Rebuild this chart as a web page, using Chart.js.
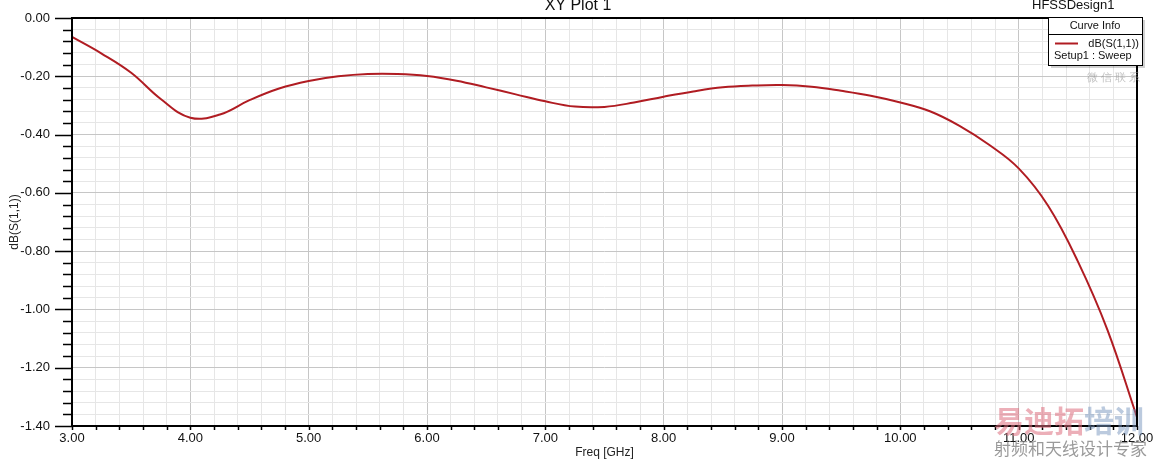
<!DOCTYPE html>
<html>
<head>
<meta charset="utf-8">
<title>XY Plot 1</title>
<script src="https://cdn.jsdelivr.net/npm/chart.js@4.4.1/dist/chart.umd.min.js"></script>
<style>
  html, body { margin: 0; padding: 0; background: #fff; }
  #plot { display: block; }
</style>
</head>
<body>
<canvas id="plot" width="1153" height="461"></canvas>
<script>
const freqGHz = [3.00, 3.25, 3.50, 3.75, 4.00, 4.25, 4.50, 4.75, 5.00,
                 5.25, 5.50, 5.75, 6.00, 6.25, 6.50, 6.75, 7.00, 7.25,
                 7.50, 7.75, 8.00, 8.25, 8.50, 8.75, 9.00, 9.25, 9.50, 9.75,
                 10.00, 10.25, 10.50, 10.75, 11.00, 11.25, 11.50, 11.75, 12.00];
const s11dB = [-0.065, -0.122, -0.188, -0.278, -0.342, -0.331, -0.282, -0.242, -0.216,
               -0.200, -0.192, -0.192, -0.199, -0.215, -0.238, -0.262, -0.286, -0.304,
               -0.305, -0.290, -0.270, -0.252, -0.238, -0.232, -0.230, -0.236, -0.250, -0.267,
               -0.290, -0.320, -0.370, -0.435, -0.516, -0.645, -0.835, -1.070, -1.370];

const xMajorTicks = [3, 4, 5, 6, 7, 8, 9, 10, 11, 12];
const yMajorTicks = [0, -0.2, -0.4, -0.6, -0.8, -1.0, -1.2, -1.4];

const FONT = 'Arial, "Liberation Sans", sans-serif';
const curveColor = '#b01c22';

const isMajor = (list, v) => list.some(t => Math.abs(t - v) < 1e-6);

// Frame, tick marks, titles and the "Curve Info" box, drawn on top of the chart
const hfssDecor = {
    id: 'hfssDecor',
    afterDraw(chart) {
        const c = chart.ctx;
        const a = chart.chartArea;
        const xs = chart.scales.x;
        const ys = chart.scales.y;
        c.save();

        // tick marks
        c.strokeStyle = '#000';
        c.lineWidth = 1.5;
        c.beginPath();
        ys.ticks.forEach(t => {
            const y = Math.round(ys.getPixelForValue(t.value)) + 0.5;
            const len = isMajor(yMajorTicks, t.value) ? 17 : 9;
            c.moveTo(a.left - len, y);
            c.lineTo(a.left, y);
        });
        xs.ticks.forEach(t => {
            const x = Math.round(xs.getPixelForValue(t.value)) + 0.5;
            c.moveTo(x, a.bottom);
            c.lineTo(x, a.bottom + 4);
        });
        c.stroke();

        // black frame
        c.lineWidth = 2;
        c.strokeRect(a.left, a.top, a.right - a.left, a.bottom - a.top);

        // titles
        c.fillStyle = '#111';
        c.font = '16px ' + FONT;
        c.textAlign = 'center';
        c.textBaseline = 'alphabetic';
        c.fillText('XY Plot 1', 578, 10);
        c.font = '13px ' + FONT;
        c.textAlign = 'left';
        c.fillText('HFSSDesign1', 1032, 9);

        // watermark text
        c.font = '11px ' + FONT;
        c.fillStyle = 'rgba(150,150,150,0.6)';
        c.fillText('微 信 联 系', 1087, 81);
        c.font = 'bold 30px "Noto Sans CJK SC", sans-serif';
        c.fillStyle = 'rgba(220,110,125,0.55)';
        c.fillText('易迪拓', 994, 432);
        c.fillStyle = 'rgba(120,150,190,0.5)';
        c.fillText('培训', 1084, 432);
        c.font = '17px "Noto Sans CJK SC", sans-serif';
        c.fillStyle = 'rgba(120,120,120,0.75)';
        c.fillText('射频和天线设计专家', 994, 455);

        // Curve Info box
        const bx = 1048, by = 17, bw = 94, bh = 48;
        c.fillStyle = 'rgba(0,0,0,0.18)';
        c.fillRect(bx + 3, by + 3, bw, bh);
        c.fillStyle = '#fff';
        c.fillRect(bx, by, bw, bh);
        c.strokeStyle = '#000';
        c.lineWidth = 1;
        c.strokeRect(bx + 0.5, by + 0.5, bw, bh);
        c.beginPath();
        c.moveTo(bx, 34.5);
        c.lineTo(bx + bw, 34.5);
        c.stroke();

        c.fillStyle = '#111';
        c.font = '11px ' + FONT;
        c.textAlign = 'center';
        c.textBaseline = 'middle';
        c.fillText('Curve Info', bx + bw / 2, 26);
        c.textAlign = 'right';
        c.fillText('dB(S(1,1))', 1139, 44);
        c.textAlign = 'left';
        c.fillText('Setup1 : Sweep', 1054, 56);

        c.strokeStyle = curveColor;
        c.lineWidth = 2;
        c.beginPath();
        c.moveTo(1055, 43.5);
        c.lineTo(1078, 43.5);
        c.stroke();

        c.restore();
    }
};

document.addEventListener('DOMContentLoaded', () => {
    const ctx = document.getElementById('plot').getContext('2d');

    const points = freqGHz.map((f, i) => ({ x: f, y: s11dB[i] }));

    new Chart(ctx, {
        type: 'line',
        data: {
            datasets: [{
                label: 'dB(S(1,1))',
                data: points,
                borderColor: curveColor,
                borderWidth: 2,
                pointRadius: 0,
                fill: false,
                tension: 0.4 // smooth sweep curve
            }]
        },
        options: {
            responsive: false,
            animation: false,
            layout: { padding: { top: 18, right: 16, left: 0, bottom: 0 } },
            plugins: {
                legend: { display: false },
                tooltip: { enabled: false }
            },
            scales: {
                x: {
                    type: 'linear',
                    min: 3,
                    max: 12,
                    // fixed axis band; label overhang must not move the plot box
                    afterFit: scale => {
                        scale.height = 35;
                        scale.paddingLeft = 0;
                        scale.paddingRight = 0;
                    },
                    border: { display: false },
                    grid: {
                        drawTicks: false,
                        lineWidth: 1,
                        color: c => isMajor(xMajorTicks, c.tick.value) ? '#c6c6c6' : '#e6e6e6'
                    },
                    ticks: {
                        stepSize: 0.2,
                        autoSkip: false,
                        maxRotation: 0,
                        padding: 5,
                        color: '#111',
                        font: { family: FONT, size: 13 },
                        callback: v => isMajor(xMajorTicks, v) ? Number(v).toFixed(2) : ''
                    },
                    title: {
                        display: true,
                        text: 'Freq [GHz]',
                        color: '#222',
                        font: { family: FONT, size: 12 },
                        padding: { top: 0, bottom: 1 }
                    }
                },
                y: {
                    min: -1.4,
                    max: 0,
                    afterFit: scale => {
                        scale.width = 72;
                        scale.paddingTop = 0;
                        scale.paddingBottom = 0;
                    },
                    border: { display: false },
                    grid: {
                        drawTicks: false,
                        lineWidth: 1,
                        color: c => isMajor(yMajorTicks, c.tick.value) ? '#c6c6c6' : '#e6e6e6'
                    },
                    ticks: {
                        stepSize: 0.04,
                        autoSkip: false,
                        padding: 22,
                        color: '#111',
                        font: { family: FONT, size: 13 },
                        callback: v => {
                            if (!isMajor(yMajorTicks, v)) return '';
                            return (Math.abs(v) < 1e-9 ? 0 : v).toFixed(2);
                        }
                    },
                    title: {
                        display: true,
                        text: 'dB(S(1,1))',
                        color: '#222',
                        font: { family: FONT, size: 12 },
                        padding: { top: 7, bottom: 0 }
                    }
                }
            }
        },
        plugins: [hfssDecor]
    });
});
</script>
</body>
</html>
